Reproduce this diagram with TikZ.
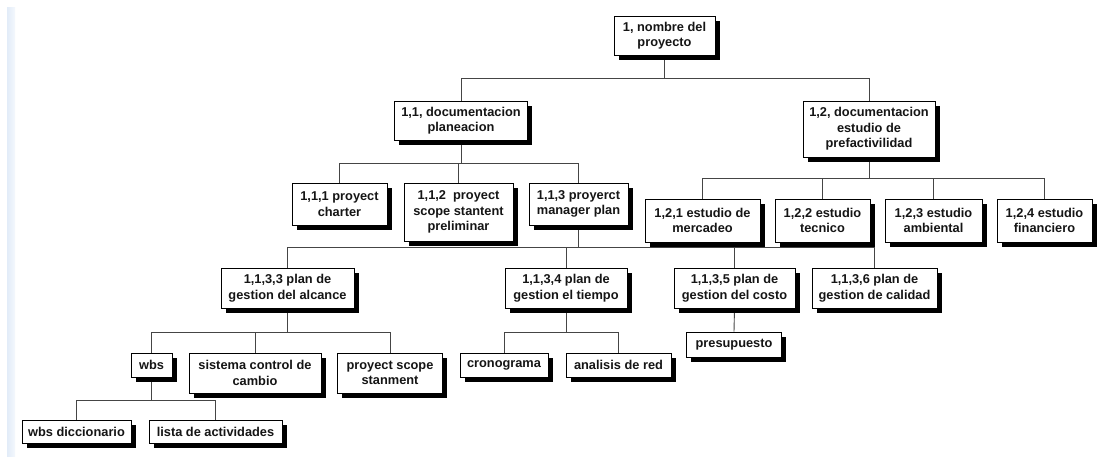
\documentclass[tikz,border=0pt]{standalone}
\usepackage{fontspec}
\setmainfont{Liberation Sans}
\usetikzlibrary{shadows,backgrounds}
\definecolor{inkline}{HTML}{454545}
\definecolor{inktext}{HTML}{151515}
\definecolor{stripdark}{HTML}{E2ECF8}
\definecolor{striplight}{HTML}{F4F8FD}
\tikzset{
  wbsbox/.style={draw=black, line width=0.9pt, fill=white, align=center,
    text=inktext, font=\bfseries\fontsize{12.8}{15.5}\selectfont, inner sep=1pt,
    drop shadow={shadow xshift=4.5pt, shadow yshift=-4.8pt, opacity=1, fill=black}},
  link/.style={draw=inkline, line width=0.9pt},
}
\begin{document}
\begin{tikzpicture}[x=1pt, y=-1pt]
\useasboundingbox (0,0) rectangle (1103,457);
\begin{scope}[on background layer]
  \fill[white] (0,0) rectangle (1103,457);
  \shade[left color=stripdark, right color=striplight] (7,8) rectangle (15,457);
\end{scope}

% level 0
\node[wbsbox, minimum width=101pt, minimum height=39pt] (root) at (664.5,35.5) {1, nombre del\\proyecto};

% level 1
\node[wbsbox, minimum width=133pt, minimum height=39pt] (n11) at (461,120.5) {1,1, documentacion\\planeacion};
\node[wbsbox, minimum width=132pt, minimum height=56pt] (n12) at (869,129) {1,2, documentacion\\estudio de\\prefactivilidad};

% level 2, planning branch
\node[wbsbox, minimum width=95pt, minimum height=42pt] (n111) at (339.5,204) {1,1,1 proyect\\charter};
\node[wbsbox, minimum width=109pt, minimum height=58pt] (n112) at (458.5,212) {1,1,2\ \ proyect\\scope stantent\\preliminar};
\node[wbsbox, minimum width=99pt, minimum height=42pt] (n113) at (578.5,204) {1,1,3 proyerct\\manager plan};

% level 2, feasibility branch
\node[wbsbox, minimum width=115pt, minimum height=43pt] (n121) at (702.5,220.5) {1,2,1 estudio de\\mercadeo};
\node[wbsbox, minimum width=95pt, minimum height=43pt] (n122) at (822.5,220.5) {1,2,2 estudio\\tecnico};
\node[wbsbox, minimum width=97pt, minimum height=43pt] (n123) at (933.5,220.5) {1,2,3 estudio\\ambiental};
\node[wbsbox, minimum width=95pt, minimum height=43pt] (n124) at (1044.5,220.5) {1,2,4 estudio\\financiero};

% level 3, management plans
\node[wbsbox, minimum width=133pt, minimum height=40pt] (n1133) at (287.5,288) {1,1,3,3 plan de\\gestion del alcance};
\node[wbsbox, minimum width=122pt, minimum height=40pt] (n1134) at (566,288) {1,1,3,4 plan de\\gestion el tiempo};
\node[wbsbox, minimum width=121pt, minimum height=40pt] (n1135) at (734.5,288) {1,1,3,5 plan de\\gestion del costo};
\node[wbsbox, minimum width=125pt, minimum height=40pt] (n1136) at (874.5,288) {1,1,3,6 plan de\\gestion de calidad};

% level 4
\node[wbsbox, minimum width=41pt, minimum height=24pt] (wbs) at (151.5,365) {wbs};
\node[wbsbox, minimum width=132pt, minimum height=40pt] (scc) at (255,373) {sistema control de\\cambio};
\node[wbsbox, minimum width=105pt, minimum height=40pt] (pss) at (390,373) {proyect scope\\stanment};
\node[wbsbox, minimum width=88pt, minimum height=24pt] (crono) at (504,365) {cronograma};
\node[wbsbox, minimum width=105pt, minimum height=24pt] (red) at (618.5,365) {analisis de red};
\node[wbsbox, minimum width=95pt, minimum height=25pt] (presu) at (734,344.5) {presupuesto};

% level 5
\node[wbsbox, minimum width=109pt, minimum height=23pt] (dicc) at (76.5,432) {wbs diccionario};
\node[wbsbox, minimum width=133pt, minimum height=23pt] (lista) at (215.5,432) {lista de actividades};

% horizontal bus levels
\coordinate (bus0) at (0,78);
\coordinate (bus1) at (0,163);
\coordinate (bus2) at (0,178);
\coordinate (bus3) at (0,247);
\coordinate (bus4) at (0,332);
\coordinate (bus5) at (0,400);

\begin{scope}[on background layer]
  \draw[link] (root.south) -- (root.south |- bus0) -| (n11.north);
  \draw[link] (root.south |- bus0) -| (n12.north);

  \draw[link] (n11.south) -- (n11.south |- bus1) -| (n111.north);
  \draw[link] (n11.south |- bus1) -| (n112.north);
  \draw[link] (n11.south |- bus1) -| (n113.north);

  \draw[link] (n12.south) -- (n12.south |- bus2) -| (n121.north);
  \draw[link] (n12.south |- bus2) -| (n122.north);
  \draw[link] (n12.south |- bus2) -| (n123.north);
  \draw[link] (n12.south |- bus2) -| (n124.north);

  \draw[link] (n113.south) -- (n113.south |- bus3) -| (n1133.north);
  \draw[link] (n113.south |- bus3) -| (n1134.north);
  \draw[link] (n113.south |- bus3) -| (n1135.north);
  \draw[link] (n113.south |- bus3) -| (n1136.north);

  \draw[link] (n1133.south) -- (n1133.south |- bus4) -| (wbs.north);
  \draw[link] (n1133.south |- bus4) -| (scc.north);
  \draw[link] (n1133.south |- bus4) -| (pss.north);

  \draw[link] (n1134.south) -- (n1134.south |- bus4) -| (crono.north);
  \draw[link] (n1134.south |- bus4) -| (red.north);

  \draw[link] (n1135.south) -- (presu.north);

  \draw[link] (wbs.south) -- (wbs.south |- bus5) -| (dicc.north);
  \draw[link] (wbs.south |- bus5) -| (lista.north);
\end{scope}
\end{tikzpicture}
\end{document}
